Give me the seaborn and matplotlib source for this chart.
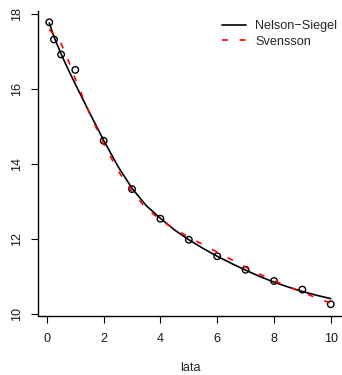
import matplotlib
matplotlib.use("Agg")
import matplotlib.pyplot as plt
from matplotlib import font_manager as fm
import seaborn as sns
import pandas as pd

# observed yields
years = [0.083, 0.25, 0.5, 1, 2, 3, 4, 5, 6, 7, 8, 9, 10]
yields = [17.79, 17.33, 16.93, 16.52, 14.63, 13.34, 12.55, 11.99, 11.55, 11.19, 10.89, 10.66, 10.27]

# fitted curves
curve_x = [0.083, 0.25, 0.5, 0.75, 1, 1.5, 2, 2.5, 3, 3.5, 4, 4.5, 5, 5.5, 6,
           6.5, 7, 7.5, 8, 8.5, 9, 9.5, 10]
nelson_siegel = [17.77, 17.40, 16.94, 16.53, 16.14, 15.38, 14.64, 13.95, 13.36, 12.90,
                 12.56, 12.25, 11.99, 11.76, 11.55, 11.36, 11.18, 11.01, 10.86, 10.73,
                 10.61, 10.51, 10.42]
svensson = [17.60, 17.45, 17.22, 16.78, 16.28, 15.36, 14.55, 13.84, 13.27, 12.83,
            12.52, 12.27, 12.06, 11.86, 11.66, 11.46, 11.26, 11.07, 10.90, 10.74,
            10.59, 10.44, 10.30]

series_labels = ["Nelson\u2212Siegel", "Svensson"]
x_ticks = [0, 2, 4, 6, 8, 10]
y_ticks = [10, 12, 14, 16, 18]
x_label = "lata"

sns.set_style("ticks")
plt.rcParams["font.family"] = ["Liberation Sans", "DejaVu Sans"]
FS = 9.1

# pick the regular (non-narrow) Liberation Sans file
font_path = None
for f in fm.fontManager.ttflist:
    if f.name == "Liberation Sans" and "Narrow" not in f.fname \
            and f.style == "normal" and f.weight in (400, "normal", "regular"):
        font_path = f.fname
        break
if font_path:
    fp = fm.FontProperties(fname=font_path, size=FS)
else:
    fp = fm.FontProperties(family=["Liberation Sans", "DejaVu Sans"], size=FS)

pts = pd.DataFrame({"x": years, "y": yields})
curves = pd.DataFrame({"x": curve_x, "ns": nelson_siegel, "sv": svensson})

fig = plt.figure(figsize=(3.42, 3.75), dpi=100)
ax = fig.add_axes([38 / 342, (375 - 315.5) / 375, (342 - 38) / 342, (315.5 - 11) / 375])

sns.scatterplot(data=pts, x="x", y="y", ax=ax, marker="o", s=22,
                facecolor="none", edgecolor="black", linewidth=1.0, zorder=2)
sns.lineplot(data=curves, x="x", y="ns", ax=ax, color="black", linewidth=1.2,
             label=series_labels[0], zorder=3)
sns.lineplot(data=curves, x="x", y="sv", ax=ax, color="#ff0000", linewidth=1.2,
             label=series_labels[1], zorder=4)
ax.lines[-1].set_dashes([3.6, 7.0])

ax.set_xlim(-0.314, 10.397)
ax.set_ylim(9.97, 18.09)
ax.set_xticks(x_ticks)
ax.set_yticks(y_ticks)
ax.set_xticklabels([str(v) for v in x_ticks], fontproperties=fp)
ax.set_yticklabels([str(v) for v in y_ticks], fontproperties=fp, rotation=90, va="center")
ax.set_xlabel(x_label, fontproperties=fp, labelpad=12)
ax.set_ylabel("")

for s in ["top", "right"]:
    ax.spines[s].set_visible(False)
for s in ["left", "bottom"]:
    ax.spines[s].set_linewidth(1.0)
    ax.spines[s].set_color("black")
ax.tick_params(axis="both", direction="out", length=5, width=0.8, color="black",
               labelcolor="#1a1a1a")
ax.tick_params(axis="x", pad=7.5)
ax.tick_params(axis="y", pad=6)

handles = ax.lines[-2:]
leg = ax.legend(handles, series_labels, frameon=False, prop=fp,
                loc="upper right", bbox_to_anchor=(337 / 342, 1 - 20 / 375),
                bbox_transform=fig.transFigure, borderpad=0, borderaxespad=0,
                handlelength=1.9, handletextpad=0.75, labelspacing=0.3)

fig.savefig("out.png", dpi=100)
